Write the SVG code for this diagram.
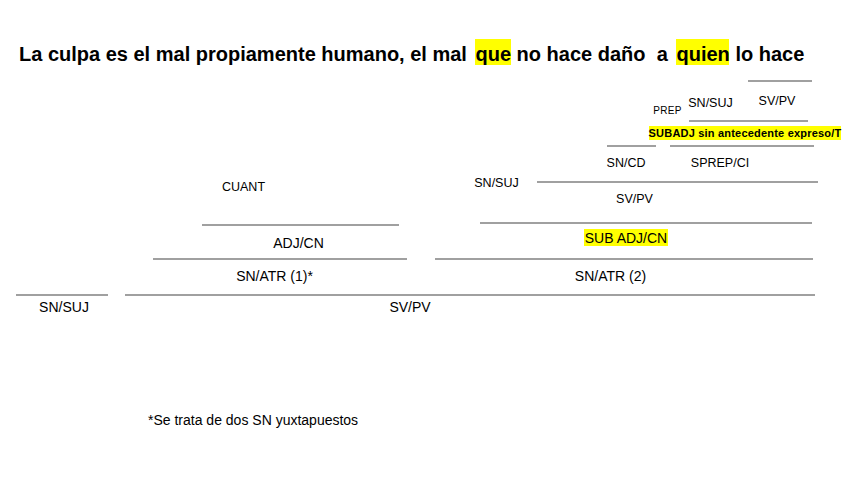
<svg xmlns="http://www.w3.org/2000/svg" width="848" height="477" viewBox="0 0 848 477">
<style>
text{font-family:"Liberation Sans",Arial,sans-serif;fill:#000}
.t{font-size:20px;font-weight:bold;white-space:pre}
.l{font-size:14px;text-anchor:middle}
.s{font-size:12.5px;text-anchor:middle}
.hl{fill:#ffff00}
.ln{stroke:#808080;stroke-width:1.5;fill:none}
</style>
<rect width="848" height="477" fill="#fff"/>
<g id="title">
<rect class="hl" x="475" y="39" width="36" height="26"/>
<rect class="hl" x="676" y="39" width="53" height="26"/>
<text class="t" x="19" y="61" xml:space="preserve">La culpa es el mal propiamente humano, el mal <tspan x="475.5">que</tspan> no hace daño  a <tspan x="676.5">quien</tspan> lo hace</text>
</g>
<g id="connectors">
<line class="ln" x1="748" y1="81" x2="812" y2="81"/>
<line class="ln" x1="689" y1="121" x2="808" y2="121"/>
<line class="ln" x1="607" y1="146" x2="656" y2="146"/>
<line class="ln" x1="670" y1="146" x2="814" y2="146"/>
<line class="ln" x1="537" y1="182" x2="818" y2="182"/>
<line class="ln" x1="480" y1="223" x2="812" y2="223"/>
<line class="ln" x1="202" y1="225" x2="399" y2="225"/>
<line class="ln" x1="153" y1="259" x2="407" y2="259"/>
<line class="ln" x1="435" y1="259" x2="813" y2="259"/>
<line class="ln" x1="16" y1="295" x2="108" y2="295"/>
<line class="ln" x1="125" y1="295" x2="815" y2="295"/>
</g>
<g id="n-svpv-top"><text class="s" x="777" y="104.5">SV/PV</text></g>
<g id="n-snsuj-top"><text class="s" x="710.5" y="107">SN/SUJ</text></g>
<g id="n-prep"><text x="667.5" y="113.5" style="font-size:10px;text-anchor:middle;letter-spacing:0.3px">PREP</text></g>
<g id="n-subadj-t">
<rect class="hl" x="649" y="126" width="192" height="14"/>
<text x="745" y="137" style="font-size:11px;font-weight:bold;text-anchor:middle;letter-spacing:0.2px">SUBADJ sin antecedente expreso/T</text>
</g>
<g id="n-sncd"><text class="s" x="626" y="167">SN/CD</text></g>
<g id="n-sprepci"><text class="s" x="720" y="167">SPREP/CI</text></g>
<g id="n-snsuj-mid"><text class="s" x="496.5" y="186.5">SN/SUJ</text></g>
<g id="n-cuant"><text class="s" x="243.5" y="190.5">CUANT</text></g>
<g id="n-svpv-mid"><text class="s" x="634.5" y="203">SV/PV</text></g>
<g id="n-subadjcn">
<rect class="hl" x="584" y="229" width="84" height="17"/>
<text class="l" x="626" y="243">SUB ADJ/CN</text>
</g>
<g id="n-adjcn"><text class="l" x="298.5" y="248">ADJ/CN</text></g>
<g id="n-snatr1"><text class="l" x="274.5" y="281">SN/ATR (1)*</text></g>
<g id="n-snatr2"><text class="l" x="610.5" y="281">SN/ATR (2)</text></g>
<g id="n-snsuj-bottom"><text class="l" x="64" y="312">SN/SUJ</text></g>
<g id="n-svpv-bottom"><text class="l" x="410" y="312">SV/PV</text></g>
<g id="note"><text x="148" y="425" style="font-size:14px">*Se trata de dos SN yuxtapuestos</text></g>
</svg>
